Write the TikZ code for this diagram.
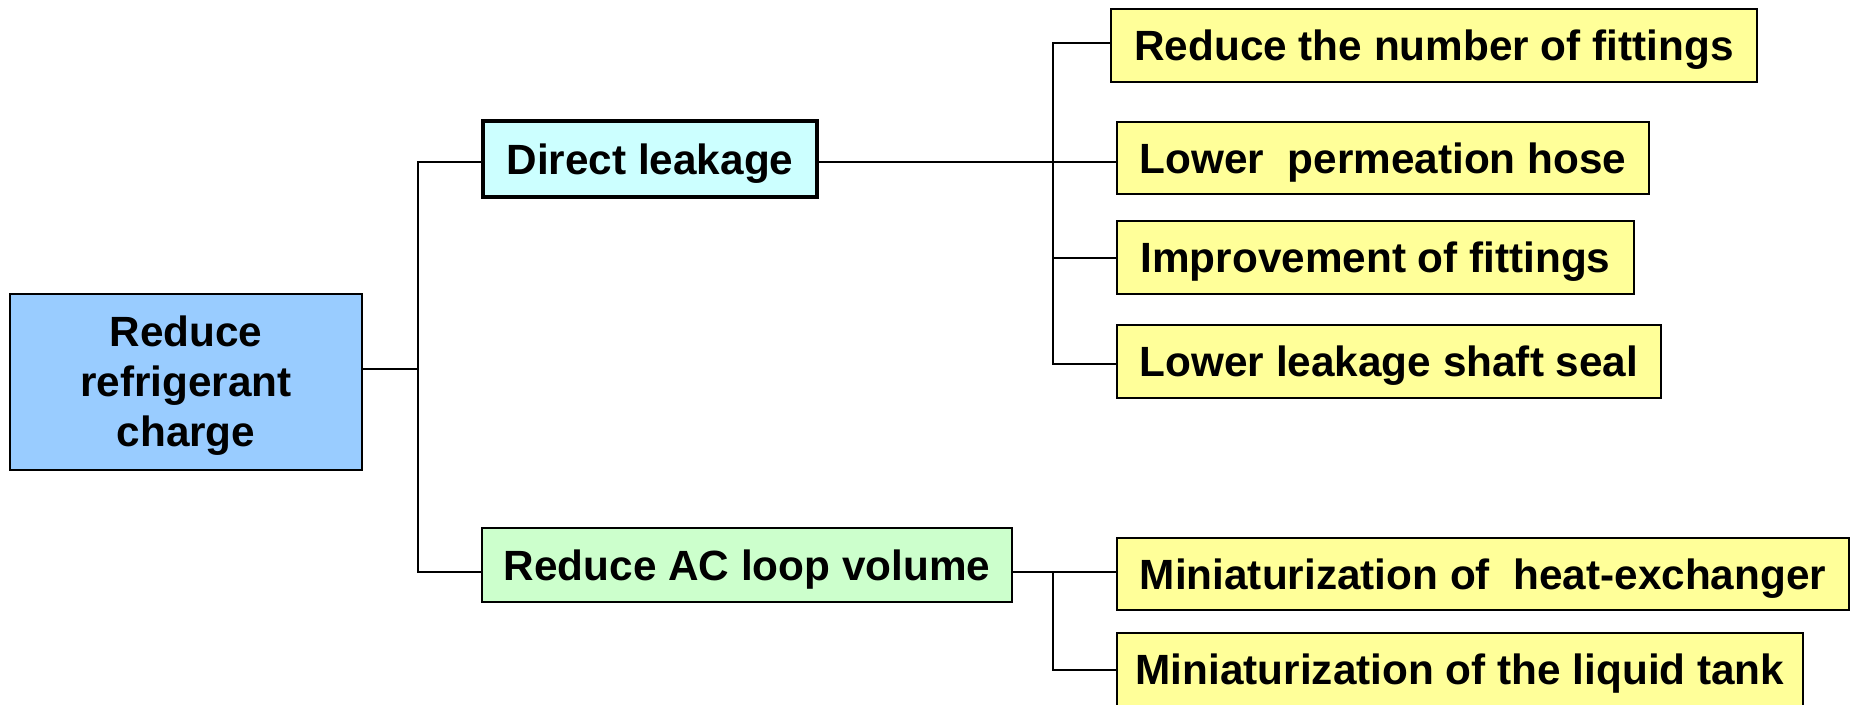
\documentclass[tikz,border=0pt]{standalone}
\usepackage{fontspec}
\setmainfont{Liberation Sans}
\definecolor{rootblue}{HTML}{99CCFF}
\definecolor{cyanbox}{HTML}{CCFFFF}
\definecolor{greenbox}{HTML}{CCFFCC}
\definecolor{yellowbox}{HTML}{FFFF99}
\begin{document}
\begin{tikzpicture}[x=1pt,y=-1pt,
  basebox/.style={draw=black, line width=2pt, align=center, inner sep=0pt,
    font=\bfseries\fontsize{42.3}{50}\selectfont},
  box/.style={basebox, text height=33pt, text depth=3pt},
  leaf/.style={box, fill=yellowbox},
  conn/.style={line width=1.8pt, black}]
\useasboundingbox (0,0) rectangle (1854,704);
% nodes
\node[basebox, fill=rootblue, minimum width=352pt, minimum height=176pt] (root) at (186,382) {};
\node[font=\bfseries\fontsize{42.3}{50}\selectfont, align=center, inner sep=0pt] (roottext) at (186,386) {Reduce\\refrigerant\\charge};
\node[box, fill=cyanbox, line width=4.5pt, minimum width=334pt, minimum height=76pt] (dl) at (650,159) {Direct leakage};
\node[box, fill=greenbox, minimum width=530pt, minimum height=74pt] (ac) at (747,565) {Reduce AC loop volume};
\node[leaf, minimum width=646pt, minimum height=73pt] (y1) at (1434,45.5) {Reduce the number of fittings};
\node[leaf, minimum width=532pt, minimum height=72pt] (y2) at (1383,158) {Lower\ \ permeation hose};
\node[leaf, minimum width=517pt, minimum height=73pt] (y3) at (1375.5,257.5) {Improvement of fittings};
\node[leaf, minimum width=544pt, minimum height=73pt] (y4) at (1389,361.5) {Lower leakage shaft seal};
\node[leaf, minimum width=732pt, minimum height=72pt] (y5) at (1483,574) {Miniaturization of\ \ heat-exchanger};
\node[leaf, minimum width=686pt, minimum height=73pt] (y6) at (1460,669.5) {Miniaturization of the liquid tank};
% junction coordinates
\coordinate (t0) at (418,369);
\coordinate (tTop) at (418,162);
\coordinate (tBot) at (418,572);
\coordinate (u1) at (1053,43);
\coordinate (u2) at (1053,162);
\coordinate (u3) at (1053,258);
\coordinate (u4) at (1053,364);
\coordinate (v1) at (1053,572);
\coordinate (v2) at (1053,670);
% connectors
\draw[conn] (root.east |- t0) -- (t0);
\draw[conn] (dl.west |- tTop) -- (tTop) -- (tBot) -- (ac.west |- tBot);
\draw[conn] (y1.west |- u1) -- (u1) -- (u4) -- (y4.west |- u4);
\draw[conn] (dl.east |- u2) -- (y2.west |- u2);
\draw[conn] (u3) -- (y3.west |- u3);
\draw[conn] (ac.east |- v1) -- (y5.west |- v1);
\draw[conn] (v1) -- (v2) -- (y6.west |- v2);
\end{tikzpicture}
\end{document}
